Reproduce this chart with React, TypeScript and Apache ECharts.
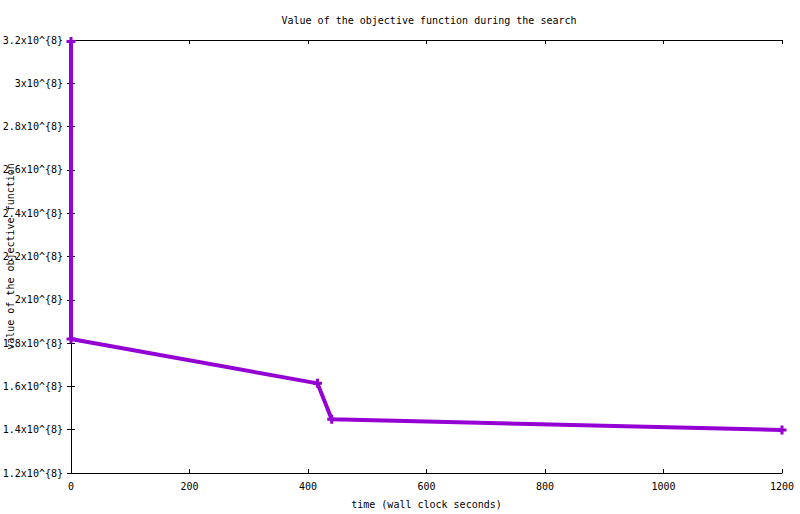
import React, { useEffect, useRef } from "react";
import * as echarts from "echarts";

const times: number[] = [0, 0, 416, 440, 1200];
const objectiveValues: number[] = [3.193e8, 1.819e8, 1.614e8, 1.448e8, 1.399e8];
const xTicks = { min: 0, max: 1200, interval: 200 };
const yTicks = { min: 1.2e8, max: 3.2e8, interval: 2e7 };

const titleText = "Value of the objective function during the search";
const xName = "time (wall clock seconds)";
const yName = "value of the objective function";

const FONT = "DejaVu Sans Mono";
const PURPLE = "#9400D3";
const PLUS = "path://M-1.5,-4.5 L1.5,-4.5 L1.5,-1.5 L4.5,-1.5 L4.5,1.5 L1.5,1.5 L1.5,4.5 L-1.5,4.5 L-1.5,1.5 L-4.5,1.5 L-4.5,-1.5 L-1.5,-1.5 Z";

function fmtY(v: number): string {
  const m = Math.round((v / 1e8) * 10) / 10;
  return `${m}x10^{8}`;
}

export default function App() {
  const ref = useRef<HTMLDivElement>(null);
  useEffect(() => {
    if (!ref.current) return;
    const chart = echarts.init(ref.current, undefined, { renderer: "svg" });
    const axisLine = { show: true, lineStyle: { color: "#000", width: 1 } };
    const tick = { show: true, inside: true, length: 4, lineStyle: { color: "#000", width: 1 } };
    const labelStyle = { fontFamily: FONT, fontSize: 10, color: "#000" };
    chart.setOption({
      animation: false,
      backgroundColor: "#fff",
      title: {
        text: titleText,
        left: 424,
        top: 10,
        textAlign: "center",
        textStyle: { fontFamily: FONT, fontSize: 10, fontWeight: "normal", color: "#000" },
      },
      grid: { left: 71, right: 18, top: 40, bottom: 41, containLabel: false, outerBoundsMode: "none" },
      xAxis: [
        {
          type: "value",
          min: xTicks.min,
          max: xTicks.max,
          interval: xTicks.interval,
          position: "bottom",
          axisLine,
          axisTick: tick,
          splitLine: { show: false },
          axisLabel: { ...labelStyle, margin: 8, formatter: (v: number) => String(v) },
          name: xName,
          nameLocation: "middle",
          nameGap: 26,
          nameMoveOverlap: false,
          nameTextStyle: labelStyle,
        },
        {
          type: "value",
          min: xTicks.min,
          max: xTicks.max,
          interval: xTicks.interval,
          position: "top",
          axisLine,
          axisTick: tick,
          splitLine: { show: false },
          axisLabel: { show: false },
        },
      ],
      yAxis: [
        {
          type: "value",
          min: yTicks.min,
          max: yTicks.max,
          interval: yTicks.interval,
          position: "left",
          axisLine,
          axisTick: tick,
          splitLine: { show: false },
          axisLabel: { ...labelStyle, margin: 8, formatter: fmtY },
          name: yName,
          nameLocation: "middle",
          nameRotate: 90,
          nameGap: 56,
          nameMoveOverlap: false,
          nameTextStyle: labelStyle,
        },
        {
          type: "value",
          min: yTicks.min,
          max: yTicks.max,
          interval: yTicks.interval,
          position: "right",
          axisLine,
          axisTick: tick,
          splitLine: { show: false },
          axisLabel: { show: false },
        },
      ],
      series: [
        {
          type: "line",
          xAxisIndex: 0,
          yAxisIndex: 0,
          data: times.map((t, i) => [t, objectiveValues[i]]),
          lineStyle: { color: PURPLE, width: 4 },
          itemStyle: { color: PURPLE, borderWidth: 0 },
          symbol: PLUS,
          symbolSize: 9,
          showAllSymbol: true,
          clip: false,
        },
      ],
    });
    return () => chart.dispose();
  }, []);
  return (
    <div
      ref={ref}
      style={{ position: "absolute", left: 0, top: 0, width: 800, height: 514 }}
    />
  );
}
